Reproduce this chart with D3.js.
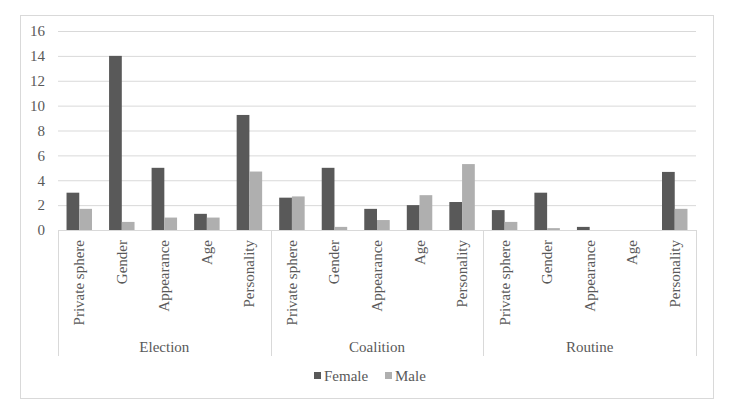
<!DOCTYPE html>
<html>
<head>
<meta charset="utf-8">
<script src="https://cdn.jsdelivr.net/npm/d3@7"></script>
<style>
html,body{margin:0;padding:0;background:#fff;}
svg{display:block;}
</style>
</head>
<body>
<svg id="chart" width="741" height="420"></svg>
<script>
const groups = ["Election", "Coalition", "Routine"];
const subcategories = ["Private sphere", "Gender", "Appearance", "Age", "Personality"];
const seriesNames = ["Female", "Male"];
const femaleValues = [3, 14, 5, 1.3, 9.25, 2.6, 5, 1.7, 2, 2.25, 1.6, 3, 0.25, 0, 4.67];
const maleValues = [1.7, 0.65, 1, 1, 4.7, 2.7, 0.25, 0.8, 2.8, 5.3, 0.65, 0.15, 0, 0, 1.7];
const yTicks = [0, 2, 4, 6, 8, 10, 12, 14, 16];
const colors = ["#595959", "#afafaf"];

const FONT = '"Liberation Serif"';
const TEXT_COLOR = "#595959";
const rows = [];
groups.forEach((g, gi) => subcategories.forEach((s, si) => {
  const i = gi * subcategories.length + si;
  rows.push({key: g + "|" + s, group: g, sub: s, values: [femaleValues[i], maleValues[i]]});
}));

const svg = d3.select("#chart");
const plotLeft = 58, plotRight = 696, plotTop = 31, plotBottom = 230;

function styleText(sel) {
  return sel.style("font-family", FONT).style("font-size", "15px").style("fill", TEXT_COLOR);
}

// outer border
svg.append("rect").attr("x", 20.5).attr("y", 15.5).attr("width", 693).attr("height", 383)
  .attr("fill", "#fff").attr("stroke", "#d9d9d9");

const x = d3.scaleBand().domain(rows.map(d => d.key)).range([plotLeft, plotRight]).paddingInner(0).paddingOuter(0);
const y = d3.scaleLinear().domain([0, 16]).range([plotBottom, plotTop]);
const xs = d3.scaleBand().domain(seriesNames).range([0, x.bandwidth()]).paddingInner(0).paddingOuter(0.67);

// gridlines + y labels
const yAxis = d3.axisLeft(y).tickValues(yTicks).tickSize(-(plotRight - plotLeft)).tickFormat(d3.format("d"));
const ga = svg.append("g").attr("transform", `translate(${plotLeft},0)`).call(yAxis);
ga.select(".domain").remove();
ga.selectAll(".tick line").attr("stroke", "#d9d9d9").attr("stroke-width", 1);
styleText(ga.selectAll(".tick text").attr("x", -13));

// bars
const gBars = svg.append("g");
rows.forEach(r => {
  r.values.forEach((v, si) => {
    gBars.append("rect")
      .attr("x", x(r.key) + xs(seriesNames[si]))
      .attr("y", y(v))
      .attr("width", xs.bandwidth())
      .attr("height", y(0) - y(v))
      .attr("fill", colors[si]);
  });
});

// x axis baseline
svg.append("line").attr("x1", plotLeft).attr("x2", plotRight).attr("y1", plotBottom + 0.5).attr("y2", plotBottom + 0.5)
  .attr("stroke", "#d9d9d9");

// group separators
const sepBottom = 356;
const groupBounds = groups.map(g => {
  const keys = rows.filter(r => r.group === g).map(r => r.key);
  return [x(keys[0]), x(keys[keys.length - 1]) + x.bandwidth()];
});
const sepXs = [plotLeft].concat(groupBounds.map(b => b[1]));
sepXs.forEach(sx => {
  svg.append("line").attr("x1", Math.round(sx) + 0.5).attr("x2", Math.round(sx) + 0.5)
    .attr("y1", plotBottom).attr("y2", sepBottom).attr("stroke", "#d9d9d9");
});

// subcategory labels (rotated)
rows.forEach(r => {
  const cx = x(r.key) + x.bandwidth() / 2;
  styleText(svg.append("text")
    .attr("transform", `translate(${cx + 5},${plotBottom + 10}) rotate(-90)`)
    .attr("text-anchor", "end")
    .text(r.sub));
});

// group labels
groups.forEach((g, gi) => {
  const [a, b] = groupBounds[gi];
  styleText(svg.append("text").attr("x", (a + b) / 2).attr("y", 352)
    .attr("text-anchor", "middle").text(g));
});

// legend
const legend = svg.append("g");
const legendItems = [{name: seriesNames[0], x: 314}, {name: seriesNames[1], x: 385}];
legendItems.forEach((it, i) => {
  legend.append("rect").attr("x", it.x).attr("y", 372).attr("width", 7).attr("height", 7).attr("fill", colors[i]);
  styleText(legend.append("text").attr("x", it.x + 10).attr("y", 381).text(it.name));
});
</script>
</body>
</html>
